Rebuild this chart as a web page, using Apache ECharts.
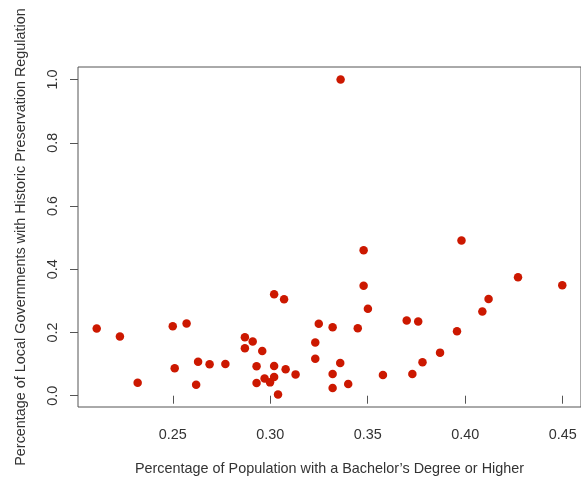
<!DOCTYPE html>
<html>
<head>
<meta charset="utf-8">
<script src="https://cdn.jsdelivr.net/npm/echarts@6/dist/echarts.min.js"></script>
<style>
  html, body { margin: 0; padding: 0; background: #ffffff; }
  #chart { width: 581px; height: 481px; }
</style>
</head>
<body>
<div id="chart"></div>
<script>
// Share of population with a bachelor's degree or higher (x)
var bachelorShare = [
  0.2110, 0.2229, 0.2320, 0.2500, 0.2571, 0.2510, 0.2630, 0.2689, 0.2770, 0.2620,
  0.2870, 0.2910, 0.2870, 0.2959, 0.2930, 0.3020, 0.3079, 0.3130, 0.2971, 0.3020,
  0.2999, 0.2930, 0.3040, 0.3020, 0.3071, 0.3249, 0.3320, 0.3449, 0.3231, 0.3231,
  0.3359, 0.3320, 0.3320, 0.3400, 0.3578, 0.3361, 0.3479, 0.3479, 0.3501, 0.3700,
  0.3759, 0.3729, 0.3781, 0.3871, 0.3958, 0.3981, 0.4088, 0.4120, 0.4271, 0.4498
];
// Share of local governments with historic preservation regulation (y)
var preservationShare = [
  0.2124, 0.1870, 0.0412, 0.2197, 0.2282, 0.0865, 0.1078, 0.0992, 0.1005, 0.0349,
  0.1848, 0.1712, 0.1499, 0.1417, 0.0929, 0.0941, 0.0834, 0.0675, 0.0548, 0.0593,
  0.0422, 0.0403, 0.0041, 0.3211, 0.3052, 0.2273, 0.2165, 0.2133, 0.1680, 0.1173,
  0.1036, 0.0688, 0.0244, 0.0371, 0.0656, 1.0000, 0.4605, 0.3477, 0.2748, 0.2377,
  0.2346, 0.0688, 0.1055, 0.1363, 0.2038, 0.4913, 0.2662, 0.3059, 0.3750, 0.3496
];
var xTicks = [0.25, 0.30, 0.35, 0.40, 0.45];
var yTicks = [0.0, 0.2, 0.4, 0.6, 0.8, 1.0];
var xTitle = "Percentage of Population with a Bachelor\u2019s Degree or Higher";
var yTitle = "Percentage of Local Governments with Historic Preservation Regulation";

var points = bachelorShare.map(function (x, i) { return [x, preservationShare[i]]; });

var FONT = "'Liberation Sans', Arial, Helvetica, sans-serif";
var TEXT = "#333333";
var LINE = "#555555";

var chart = echarts.init(document.getElementById('chart'), null, { renderer: 'canvas' });
chart.setOption({
  animation: false,
  backgroundColor: '#ffffff',
  grid: {
    left: 78, top: 67, right: -7, bottom: 74,
    show: true, borderColor: LINE, borderWidth: 1, backgroundColor: 'transparent'
  },
  xAxis: {
    type: 'value',
    min: 0.2014, max: 0.4594,
    splitLine: { show: false },
    axisLine: { show: false },
    axisTick: { show: true, customValues: xTicks, length: 8, inside: false,
                lineStyle: { color: LINE, width: 1 } },
    axisLabel: { show: true, customValues: xTicks, margin: 21,
                 formatter: function (v) { return v.toFixed(2); },
                 color: TEXT, fontSize: 14.4, fontFamily: FONT },
    name: xTitle, nameLocation: 'middle', nameGap: 55,
    nameTextStyle: { color: TEXT, fontSize: 14.4, fontFamily: FONT }
  },
  yAxis: {
    type: 'value',
    min: -0.0357, max: 1.0398,
    splitLine: { show: false },
    axisLine: { show: false },
    axisTick: { show: true, customValues: yTicks, length: 8, inside: false,
                lineStyle: { color: LINE, width: 1 } },
    axisLabel: { show: true, customValues: yTicks, margin: 18, rotate: 90,
                 formatter: function (v) { return v.toFixed(1); },
                 color: TEXT, fontSize: 14.4, fontFamily: FONT },
    name: yTitle, nameLocation: 'middle', nameGap: 50, nameRotate: 90,
    nameTextStyle: { color: TEXT, fontSize: 14.4, fontFamily: FONT }
  },
  series: [{
    type: 'scatter',
    data: points,
    symbol: 'circle',
    symbolSize: 8.5,
    itemStyle: { color: '#CC1800', opacity: 1 }
  }]
});
</script>
</body>
</html>
